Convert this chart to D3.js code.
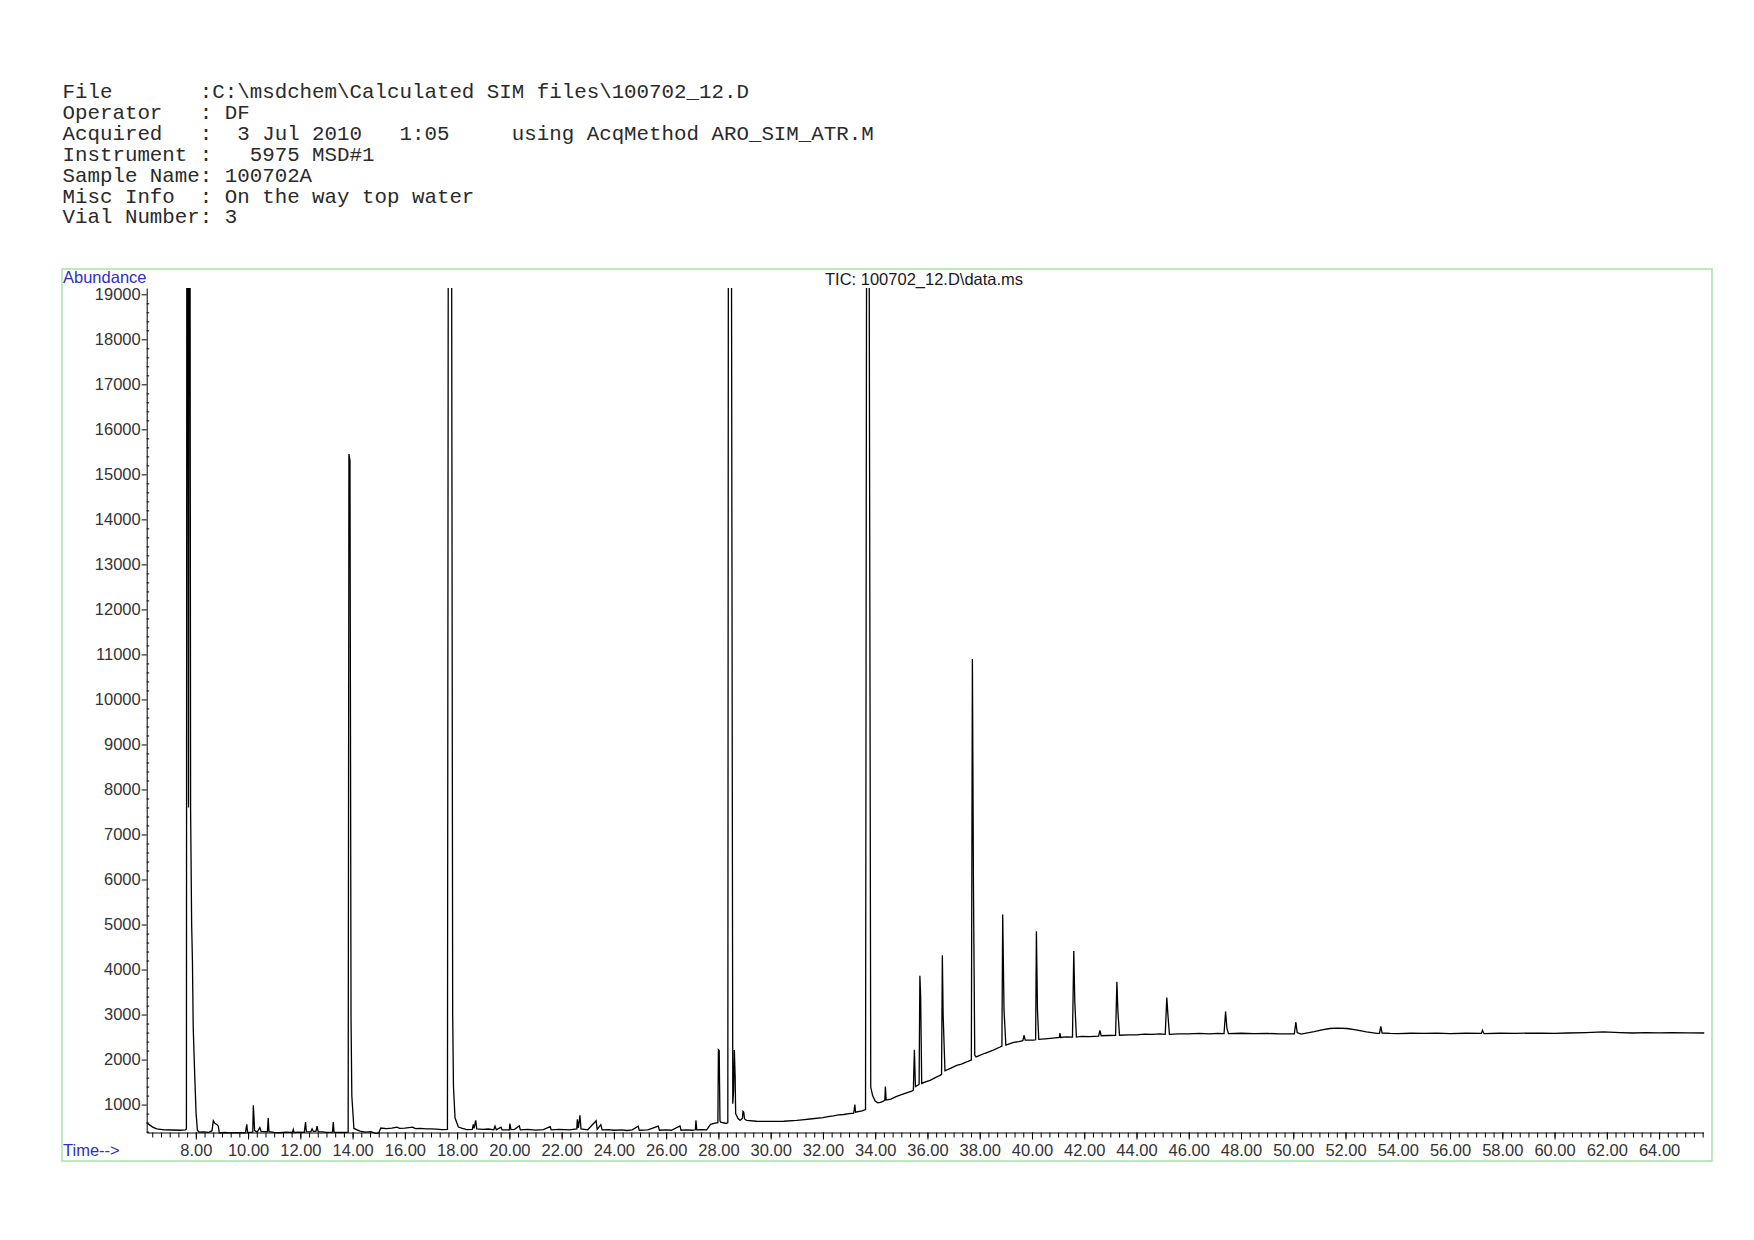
<!DOCTYPE html>
<html lang="en">
<head>
<meta charset="utf-8">
<title>TIC 100702_12.D</title>
<script src="https://cdn.jsdelivr.net/npm/d3@7"></script>
<style>
body { margin: 0; background: #fff; }
svg { display: block; }
</style>
</head>
<body>
<script>

// header block (monospace, printed above the plot)
var headerLines = [
  "File       :C:\\msdchem\\Calculated SIM files\\100702_12.D",
  "Operator   : DF",
  "Acquired   :  3 Jul 2010   1:05     using AcqMethod ARO_SIM_ATR.M",
  "Instrument :   5975 MSD#1",
  "Sample Name: 100702A",
  "Misc Info  : On the way top water",
  "Vial Number: 3"
];

var plotTitle = "TIC: 100702_12.D\\data.ms";

// axis ticks
var xTickValues = [8, 10, 12, 14, 16, 18, 20, 22, 24, 26, 28, 30, 32, 34, 36,
                   38, 40, 42, 44, 46, 48, 50, 52, 54, 56, 58, 60, 62, 64];
var yTickValues = [1000, 2000, 3000, 4000, 5000, 6000, 7000, 8000, 9000, 10000,
                   11000, 12000, 13000, 14000, 15000, 16000, 17000, 18000, 19000];

// TIC trace: [time (min), abundance]
// peaks that run off the top are given 20000 and get clipped
var trace = [
  [6.12, 600], [6.2, 560], [6.35, 500], [6.5, 460], [6.8, 440], [7.1, 435], [7.4, 430], [7.6, 440],
  [7.64, 460], [7.655, 20000], [7.69, 20000], [7.72, 7600], [7.74, 20000], [7.78, 20000], [7.80, 7540],
  [7.84, 5000], [7.87, 4200], [7.90, 2720], [7.96, 1610], [8.01, 810], [8.06, 430], [8.12, 390],
  [8.3, 395], [8.5, 385], [8.62, 420], [8.67, 640], [8.72, 590], [8.80, 560], [8.86, 520], [8.9, 370],
  [9.1, 380], [9.3, 370], [9.6, 378], [9.9, 375], [9.95, 560], [9.98, 380], [10.18, 390], [10.2, 985],
  [10.22, 780], [10.25, 420], [10.35, 390], [10.45, 490], [10.5, 400], [10.74, 400], [10.77, 700],
  [10.8, 400], [11.0, 385], [11.2, 375], [11.45, 390], [11.7, 380], [11.73, 445], [11.76, 380],
  [11.95, 390], [12.15, 385], [12.2, 610], [12.23, 400], [12.4, 395], [12.45, 460], [12.5, 400],
  [12.6, 410], [12.64, 520], [12.68, 400], [12.85, 395], [13.0, 385], [13.23, 390], [13.26, 610],
  [13.29, 390], [13.55, 380], [13.83, 390], [13.86, 15450], [13.9, 15300], [13.94, 2900],
  [13.97, 1200], [14.05, 470], [14.28, 410], [14.5, 390], [14.7, 400], [14.9, 355], [15.0, 370],
  [15.08, 480], [15.3, 465], [15.5, 475], [15.7, 500], [15.8, 470], [16.0, 478], [16.3, 500],
  [16.4, 465], [16.6, 470], [16.8, 460], [17.0, 462], [17.2, 455], [17.41, 445], [17.63, 450],
  [17.66, 20000], [17.79, 20000], [17.83, 3000], [17.86, 1400], [17.92, 700], [18.05, 500],
  [18.2, 470], [18.37, 445], [18.58, 450], [18.62, 560], [18.65, 470], [18.71, 650], [18.75, 460],
  [19.0, 450], [19.2, 458], [19.4, 440], [19.45, 520], [19.5, 440], [19.68, 500], [19.72, 440],
  [20.0, 440], [20.02, 580], [20.06, 445], [20.2, 450], [20.38, 530], [20.42, 440], [20.7, 448],
  [21.0, 435], [21.3, 445], [21.56, 510], [21.6, 440], [21.9, 448], [22.3, 440], [22.58, 460],
  [22.6, 670], [22.64, 480], [22.7, 760], [22.74, 460], [23.0, 440], [23.32, 640], [23.36, 450],
  [23.5, 555], [23.55, 440], [23.8, 445], [24.0, 430], [24.3, 438], [24.5, 425], [24.7, 440],
  [24.93, 520], [24.97, 430], [25.3, 440], [25.7, 520], [25.74, 430], [26.0, 438], [26.2, 430],
  [26.53, 525], [26.57, 430], [26.8, 440], [27.0, 430], [27.12, 440], [27.14, 650], [27.17, 440],
  [27.35, 445], [27.55, 440], [27.7, 560], [27.87, 590], [27.98, 600], [28.0, 2220], [28.03, 2200],
  [28.06, 640], [28.09, 610], [28.29, 580], [28.36, 600], [28.38, 20000], [28.50, 20000],
  [28.55, 1020], [28.58, 1300], [28.61, 2210], [28.64, 1630], [28.66, 800], [28.75, 690],
  [28.83, 650], [28.92, 700], [28.94, 850], [28.97, 830], [29.0, 680], [29.08, 650], [29.46, 630],
  [30.0, 625], [30.5, 630], [31.0, 650], [31.3, 668], [31.5, 680], [32.0, 710], [32.2, 735],
  [32.4, 750], [32.6, 770], [32.8, 780], [33.0, 800], [33.18, 810], [33.22, 1000], [33.25, 830],
  [33.5, 860], [33.63, 890], [33.67, 20000], [33.77, 20000], [33.83, 1390], [33.9, 1200],
  [34.0, 1080], [34.1, 1040], [34.2, 1050], [34.3, 1070], [34.37, 1100], [34.39, 1400],
  [34.42, 1100], [34.6, 1120], [34.8, 1175], [34.95, 1210], [35.2, 1260], [35.4, 1300],
  [35.46, 1320], [35.5, 2220], [35.54, 1400], [35.6, 1420], [35.68, 1450], [35.71, 3860],
  [35.74, 3400], [35.78, 1470], [35.95, 1510], [36.1, 1540], [36.3, 1600], [36.48, 1650],
  [36.54, 1670], [36.57, 4320], [36.60, 3000], [36.67, 1750], [36.9, 1810], [37.12, 1870],
  [37.3, 1900], [37.5, 1950], [37.68, 1990], [37.72, 10900], [37.76, 5900], [37.81, 2100],
  [37.86, 2060], [38.2, 2140], [38.52, 2210], [38.78, 2280], [38.85, 2300], [38.88, 5220],
  [38.93, 3110], [39.0, 2320], [39.3, 2380], [39.5, 2400], [39.65, 2420], [39.7, 2540],
  [39.74, 2430], [40.05, 2430], [40.14, 2440], [40.17, 4850], [40.21, 3110], [40.26, 2450],
  [40.5, 2460], [40.7, 2470], [41.05, 2490], [41.07, 2590], [41.1, 2490], [41.3, 2505],
  [41.55, 2500], [41.6, 4410], [41.64, 3280], [41.7, 2500], [41.9, 2515], [42.2, 2510],
  [42.55, 2520], [42.6, 2650], [42.65, 2530], [42.9, 2535], [43.2, 2540], [43.25, 3730],
  [43.29, 3060], [43.35, 2540], [43.7, 2550], [44.0, 2550], [44.3, 2565], [44.6, 2560],
  [44.9, 2570], [45.1, 2560], [45.16, 3380], [45.2, 3020], [45.26, 2560], [45.6, 2572],
  [46.0, 2570], [46.4, 2582], [46.8, 2570], [47.1, 2580], [47.35, 2575], [47.41, 3065],
  [47.46, 2700], [47.52, 2575], [48.0, 2585], [48.5, 2575], [49.0, 2582], [49.5, 2570],
  [50.04, 2570], [50.1, 2830], [50.15, 2600], [50.3, 2565], [50.8, 2620], [51.1, 2660],
  [51.4, 2690], [51.7, 2700], [52.05, 2690], [52.4, 2660], [52.8, 2615], [53.2, 2580],
  [53.3, 2580], [53.35, 2740], [53.4, 2590], [53.7, 2580], [54.0, 2575], [54.5, 2585],
  [55.0, 2580], [55.5, 2588], [56.0, 2575], [56.6, 2585], [57.2, 2580], [57.24, 2650],
  [57.3, 2575], [57.9, 2585], [58.5, 2580], [59.0, 2588], [59.5, 2585], [60.0, 2580],
  [60.5, 2590], [61.2, 2600], [61.87, 2615], [62.5, 2600], [63.0, 2590], [63.5, 2600],
  [64.0, 2595], [64.5, 2600], [65.1, 2592], [65.73, 2590]
];

var w = 1754;
var h = 1240;
var blue = "#2d2dd2";
var frameGreen = "#a4e2a4";

var svg = d3.select("body")
  .append("svg")
  .attr("width", w)
  .attr("height", h);

// header text
svg.append("g")
  .selectAll("text")
  .data(headerLines)
  .enter()
  .append("text")
  .attr("x", 62.5)
  .attr("y", function(d, i) { return 98 + i * 20.9; })
  .attr("font-family", "'Liberation Mono', 'Courier New', monospace")
  .attr("font-size", "20.8px")
  .attr("fill", "#2a2a2a")
  .style("white-space", "pre")
  .text(function(d) { return d; });

// green frame
svg.append("rect")
  .attr("x", 62)
  .attr("y", 269)
  .attr("width", 1650)
  .attr("height", 892)
  .attr("fill", "none")
  .attr("stroke", frameGreen)
  .attr("stroke-width", 1.5);

// scales
var x = d3.scaleLinear().domain([6.12, 65.7]).range([146.7, 1703.5]);
var y = d3.scaleLinear().domain([380, 19140]).range([1132.5, 288]);

var labelFont = "'Liberation Sans', Arial, sans-serif";
var labelSize = "16.5px";

// x axis: minor ticks every 1/3 min, labelled ticks every 2 min
var minorX = d3.range(19, 198).map(function(k) { return k / 3; })
  .filter(function(t) { return t >= 6.2 && t <= 65.7; });

svg.append("g")
  .attr("transform", "translate(0,1132.5)")
  .call(d3.axisBottom(x).tickValues(minorX).tickSize(5).tickFormat(""))
  .call(function(g) { g.select(".domain").remove(); });

var xAxis = svg.append("g")
  .attr("transform", "translate(0,1132.5)")
  .call(d3.axisBottom(x).tickValues(xTickValues).tickSize(7).tickSizeOuter(0)
    .tickFormat(d3.format(".2f")));

xAxis.selectAll("text")
  .attr("y", 23.5)
  .attr("dy", 0)
  .attr("font-family", labelFont)
  .attr("font-size", labelSize)
  .attr("fill", "#333");

// y axis: minor ticks every 200 inward, labelled ticks every 1000
var minorY = d3.range(2, 96).map(function(k) { return k * 200; })
  .filter(function(v) { return v % 1000 !== 0; });

svg.append("g")
  .attr("transform", "translate(146.7,0)")
  .call(d3.axisRight(y).tickValues(minorY).tickSize(2.5).tickFormat(""))
  .call(function(g) { g.select(".domain").remove(); });

var yAxis = svg.append("g")
  .attr("transform", "translate(146.7,0)")
  .call(d3.axisLeft(y).tickValues(yTickValues).tickSize(5).tickSizeOuter(0)
    .tickFormat(d3.format("d")));

yAxis.selectAll("text")
  .attr("x", -6)
  .attr("font-family", labelFont)
  .attr("font-size", labelSize)
  .attr("fill", "#333");

svg.selectAll(".domain").attr("stroke", "#000");
svg.selectAll(".tick line").attr("stroke", "#000");

// axis captions and title
svg.append("text")
  .attr("x", 63)
  .attr("y", 283)
  .attr("font-family", labelFont)
  .attr("font-size", labelSize)
  .attr("fill", blue)
  .text("Abundance");

svg.append("text")
  .attr("x", 63)
  .attr("y", 1156)
  .attr("font-family", labelFont)
  .attr("font-size", labelSize)
  .attr("fill", blue)
  .text("Time-->");

svg.append("text")
  .attr("x", 825)
  .attr("y", 285)
  .attr("font-family", labelFont)
  .attr("font-size", labelSize)
  .attr("fill", "#1a1a1a")
  .text(plotTitle);

// the trace, clipped to the plot area
svg.append("clipPath")
  .attr("id", "plotclip")
  .append("rect")
  .attr("x", 140)
  .attr("y", 288)
  .attr("width", 1570)
  .attr("height", 846);

var line = d3.line()
  .x(function(d) { return x(d[0]); })
  .y(function(d) { return y(d[1]); });

svg.append("path")
  .datum(trace)
  .attr("clip-path", "url(#plotclip)")
  .attr("d", line)
  .attr("fill", "none")
  .attr("stroke", "#000")
  .attr("stroke-width", 1.3)
  .attr("stroke-linejoin", "miter");

</script>
</body>
</html>
